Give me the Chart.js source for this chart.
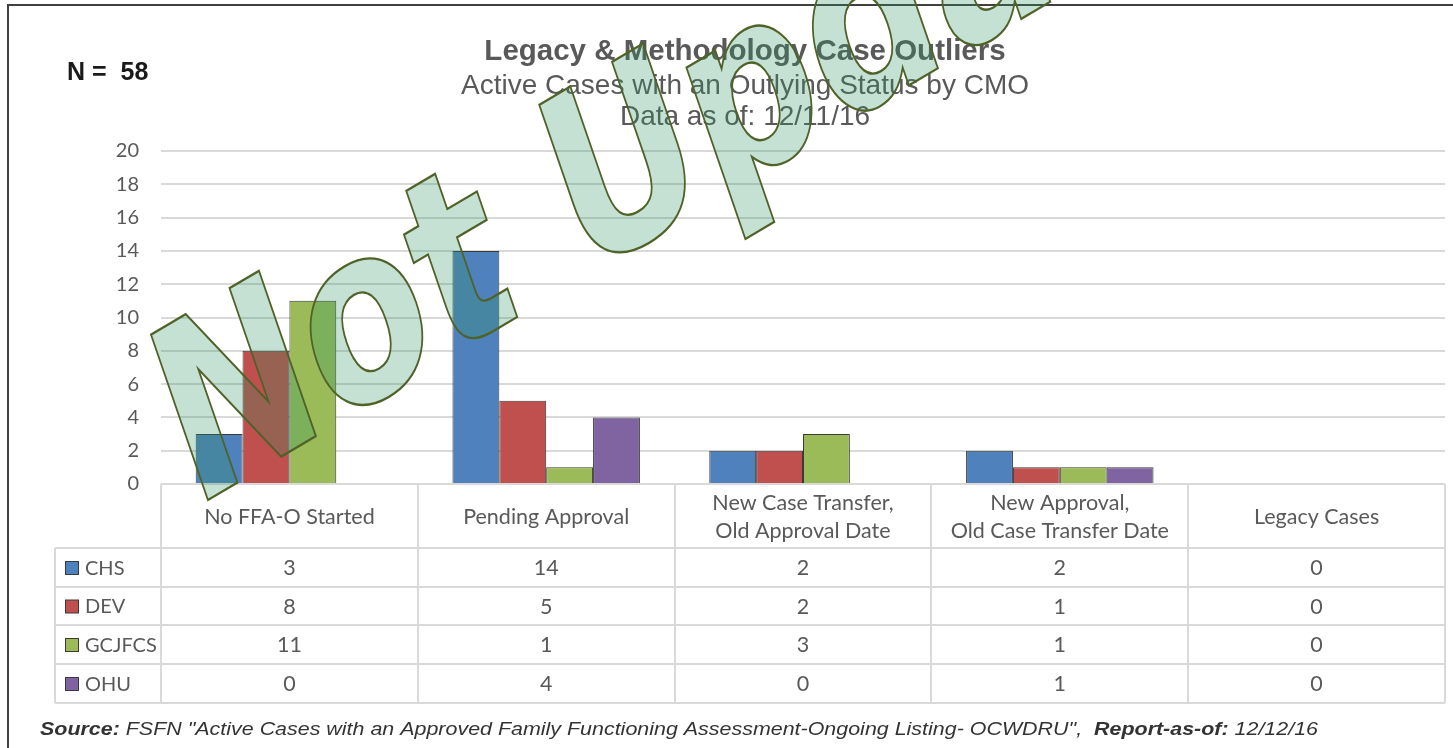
<!DOCTYPE html>
<html>
<head>
<meta charset="utf-8">
<script src="https://cdn.jsdelivr.net/npm/chart.js@4"></script>
<style>
  html, body { margin: 0; padding: 0; background: #ffffff; }
  #wrap { width: 1453px; height: 748px; }
</style>
</head>
<body>
<div id="wrap"><canvas id="chart" width="1453" height="748"></canvas></div>
<script>
// Status categories (multi-line headers of the data table)
const categories = [
  ['No FFA-O Started'],
  ['Pending Approval'],
  ['New Case Transfer,', 'Old Approval Date'],
  ['New Approval,', 'Old Case Transfer Date'],
  ['Legacy Cases']
];

// Cases per CMO
const seriesNames = ['CHS', 'DEV', 'GCJFCS', 'OHU'];
const chsValues = [3, 14, 2, 2, 0];
const devValues = [8, 5, 2, 1, 0];
const gcjfcsValues = [11, 1, 3, 1, 0];
const ohuValues = [0, 4, 0, 1, 0];

// Value axis
const yMin = 0;
const yMax = 20;
const yStep = 2;

const totalCases = 58;
const titleText = 'Legacy & Methodology Case Outliers';
const subtitleText = 'Active Cases with an Outlying Status by CMO';
const dataDateText = 'Data as of: 12/11/16';
const stampText = 'Not Updated';

const seriesColors = ['#4F81BD', '#C0504D', '#9BBB59', '#8064A2'];
const seriesValues = [chsValues, devValues, gcjfcsValues, ohuValues];

const GRID = '#D9D9D9';
const TEXT = '#595959';
const CELL_FONT = '21.5px Lato, "Liberation Sans", sans-serif';
const KEY_FONT = '20px Lato, "Liberation Sans", sans-serif';

// Header row and series rows of the data table under the plot
const headerBottom = 548;
const rowBottoms = [587, 625, 664, 703];
const legendLeft = 55;

const pagePlugin = {
  id: 'page',
  beforeDraw(chart) {
    const ctx = chart.ctx;
    ctx.save();
    ctx.fillStyle = '#ffffff';
    ctx.fillRect(0, 0, chart.width, chart.height);
    // frame
    ctx.strokeStyle = '#404040';
    ctx.lineWidth = 2;
    ctx.beginPath();
    ctx.moveTo(8, chart.height);
    ctx.lineTo(8, 5);
    ctx.lineTo(chart.width, 5);
    ctx.stroke();

    // titles
    const cx = 745;
    ctx.textAlign = 'center';
    ctx.textBaseline = 'alphabetic';
    ctx.fillStyle = TEXT;
    ctx.font = 'bold 29.5px "Liberation Sans", Arial, sans-serif';
    ctx.fillText(titleText, cx, 60);
    ctx.font = '28px "Liberation Sans", Arial, sans-serif';
    ctx.fillText(subtitleText, cx, 94);
    ctx.fillText(dataDateText, cx, 125);

    ctx.textAlign = 'left';
    ctx.fillStyle = '#1a1a1a';
    ctx.font = 'bold 25px "Liberation Sans", Arial, sans-serif';
    ctx.fillText('N =  ' + totalCases, 67, 80);
    ctx.restore();
  },
  afterDraw(chart) {
    const ctx = chart.ctx;
    const x = chart.scales.x;
    const area = chart.chartArea;
    const n = chart.data.labels.length;
    const colW = (area.right - area.left) / n;
    const top = area.bottom;
    const bottom = rowBottoms[rowBottoms.length - 1];

    ctx.save();
    ctx.strokeStyle = GRID;
    ctx.lineWidth = 2;
    ctx.beginPath();
    // vertical column lines
    for (let i = 0; i <= n; i++) {
      const px = Math.round(area.left + i * colW);
      ctx.moveTo(px, top);
      ctx.lineTo(px, bottom);
    }
    ctx.moveTo(legendLeft, headerBottom);
    ctx.lineTo(legendLeft, bottom);
    // horizontal row lines
    ctx.moveTo(area.left, top);
    ctx.lineTo(area.right, top);
    [headerBottom].concat(rowBottoms).forEach(y => {
      ctx.moveTo(legendLeft, y);
      ctx.lineTo(area.right, y);
    });
    ctx.stroke();

    // category headers
    ctx.fillStyle = TEXT;
    ctx.font = CELL_FONT;
    ctx.textAlign = 'center';
    ctx.textBaseline = 'middle';
    const headMid = (top + headerBottom) / 2 + 1;
    chart.data.labels.forEach((lab, i) => {
      const cx = x.getPixelForValue(i);
      const lines = Array.isArray(lab) ? lab : [lab];
      const lh = 28;
      lines.forEach((ln, k) => {
        ctx.fillText(ln, cx, headMid + (k - (lines.length - 1) / 2) * lh);
      });
    });

    // series rows
    let prev = headerBottom;
    chart.data.datasets.forEach((ds, d) => {
      const yb = rowBottoms[d];
      const cy = (prev + yb) / 2 + 1;
      // legend key
      ctx.fillStyle = ds.backgroundColor;
      ctx.fillRect(65.5, cy - 7, 13, 13);
      ctx.strokeStyle = '#3a3a3a';
      ctx.lineWidth = 1;
      ctx.strokeRect(65.5, cy - 7, 13, 13);
      ctx.fillStyle = TEXT;
      ctx.font = KEY_FONT;
      ctx.textAlign = 'left';
      ctx.fillText(ds.label, 85, cy);
      ctx.font = CELL_FONT;
      ctx.textAlign = 'center';
      ds.data.forEach((v, i) => {
        ctx.fillText(String(v), x.getPixelForValue(i), cy);
      });
      prev = yb;
    });

    // source line
    const parts = [
      { t: 'Source:', b: true },
      { t: ' FSFN "Active Cases with an Approved Family Functioning Assessment-Ongoing Listing- OCWDRU",  ', b: false },
      { t: 'Report-as-of:', b: true },
      { t: ' 12/12/16', b: false }
    ];
    const fontOf = p => (p.b ? 'italic bold ' : 'italic ') + '19px "Liberation Sans", Arial, sans-serif';
    let total = 0;
    parts.forEach(p => { ctx.font = fontOf(p); total += ctx.measureText(p.t).width; });
    const targetW = 1278;
    const sx = targetW / total;
    ctx.save();
    ctx.translate(40, 735);
    ctx.scale(sx, 1);
    ctx.textAlign = 'left';
    ctx.textBaseline = 'alphabetic';
    ctx.fillStyle = '#333333';
    let px = 0;
    parts.forEach(p => {
      ctx.font = fontOf(p);
      ctx.fillText(p.t, px, 0);
      px += ctx.measureText(p.t).width;
    });
    ctx.restore();

    // slanted stamp across the chart
    ctx.save();
    const ang = 30.6 * Math.PI / 180;
    const tilt = 19 * Math.PI / 180;
    const squeeze = 0.80;
    ctx.setTransform(Math.cos(ang) * squeeze, -Math.sin(ang) * squeeze,
                     Math.sin(tilt), Math.cos(tilt), 192.7, 509);
    ctx.font = 'bold 240px "DejaVu Sans", Verdana, sans-serif';
    ctx.textAlign = 'left';
    ctx.textBaseline = 'alphabetic';
    ctx.fillStyle = 'rgba(47,146,96,0.28)';
    ctx.fillText(stampText, 0, 0);
    ctx.strokeStyle = '#4F6228';
    ctx.lineWidth = 2.3;
    ctx.lineJoin = 'miter';
    ctx.strokeText(stampText, 0, 0);
    ctx.restore();

    ctx.restore();
  }
};

new Chart(document.getElementById('chart'), {
  type: 'bar',
  data: {
    labels: categories,
    datasets: seriesNames.map((name, i) => ({
      label: name,
      data: seriesValues[i],
      backgroundColor: seriesColors[i],
      borderColor: '#3a3a3a',
      borderWidth: 1,
      categoryPercentage: 0.73,
      barPercentage: 1.0
    }))
  },
  options: {
    responsive: false,
    devicePixelRatio: 1,
    animation: false,
    layout: { padding: { top: 151, right: 8, left: 0, bottom: 0 } },
    plugins: {
      legend: { display: false },
      title: { display: false },
      tooltip: { enabled: false }
    },
    scales: {
      x: {
        ticks: { display: false },
        grid: { display: false },
        border: { display: false },
        afterFit(scale) { scale.height = 264; }
      },
      y: {
        min: yMin,
        max: yMax,
        ticks: {
          stepSize: yStep,
          padding: 22,
          color: TEXT,
          font: { family: 'Lato, "Liberation Sans", sans-serif', size: 20 }
        },
        grid: { color: GRID, lineWidth: 2, drawTicks: false },
        border: { display: false },
        afterFit(scale) { scale.width = 161; }
      }
    }
  },
  plugins: [pagePlugin]
});
</script>
</body>
</html>
